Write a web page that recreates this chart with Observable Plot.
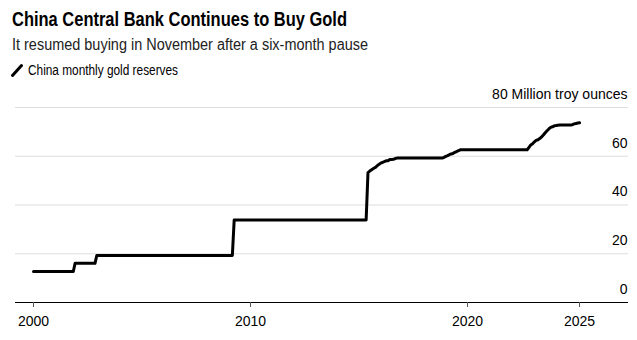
<!DOCTYPE html>
<html>
<head>
<meta charset="utf-8">
<script src="https://cdn.jsdelivr.net/npm/d3@7"></script>
<script src="https://cdn.jsdelivr.net/npm/@observablehq/plot@0.6"></script>
<style>
  html, body { margin: 0; padding: 0; background: #fff; }
  body { width: 637px; height: 340px; position: relative; overflow: hidden;
         font-family: "Liberation Sans", Arial, Helvetica, sans-serif; }
  .hd { position: absolute; left: 12px; white-space: nowrap; line-height: 1; }
  .hd span { display: inline-block; transform-origin: 0 0; }
  #title { top: 9px; font-size: 20px; font-weight: bold; color: #000; }
  #subtitle { top: 37px; font-size: 16px; color: #222; }
  #legend { top: 63px; left: 28px; font-size: 14px; color: #000; }
  #swatch { position: absolute; left: 10px; top: 63px; }
  #chart { position: absolute; left: 0; top: 80px; }
</style>
</head>
<body>
<div id="title" class="hd"><span data-fit="335">China Central Bank Continues to Buy Gold</span></div>
<div id="subtitle" class="hd"><span data-fit="356">It resumed buying in November after a six-month pause</span></div>
<svg id="swatch" width="14" height="15"><line x1="2.5" y1="12.5" x2="11.5" y2="2.5" stroke="#000" stroke-width="3" stroke-linecap="round"/></svg>
<div id="legend" class="hd"><span data-fit="150">China monthly gold reserves</span></div>
<div id="chart"></div>
<script>
// China monthly gold reserves, million troy ounces (flat periods given by their first and last month)
const months = [
  "2000-01","2001-11","2001-12","2002-11","2002-12","2009-03","2009-04","2015-05",
  "2015-06","2015-07","2015-08","2015-09","2015-10","2015-11","2015-12",
  "2016-01","2016-02","2016-03","2016-04","2016-05","2016-06","2016-07","2016-08","2016-09","2016-10",
  "2018-11","2018-12","2019-01","2019-02","2019-03","2019-04","2019-05","2019-06","2019-07","2019-08","2019-09",
  "2022-10","2022-11","2022-12","2023-01","2023-02","2023-03","2023-04","2023-05","2023-06",
  "2023-07","2023-08","2023-09","2023-10","2023-11","2023-12",
  "2024-01","2024-02","2024-03","2024-04","2024-10","2024-11","2024-12","2025-01","2025-02","2025-03"
];
const reserves = [
  12.70,12.70,16.08,16.08,19.29,19.29,33.89,33.89,
  53.31,53.93,54.45,54.93,55.38,56.05,56.66,
  57.18,57.51,57.78,58.14,58.14,58.62,58.62,58.76,59.07,59.24,
  59.24,59.56,59.94,60.26,60.62,60.94,61.10,61.61,61.94,62.26,62.64,
  62.64,63.67,64.64,65.12,65.92,66.50,66.76,67.27,67.95,
  68.69,69.62,70.46,71.20,71.87,72.08,
  72.47,72.58,72.74,72.80,72.80,72.96,73.29,73.45,73.61,73.70
];
const yTicks = [0, 20, 40, 60, 80];
const yUnit = "Million troy ounces";
const xTickYears = ["2000-01", "2010-01", "2020-01"];

const parse = d3.utcParse("%Y-%m");
const data = months.map((m, i) => ({date: parse(m), value: reserves[i]}));
const xTicks = [...xTickYears.map(parse), data[data.length - 1].date];

const chart = Plot.plot({
  width: 637,
  height: 260,
  marginTop: 27,
  marginBottom: 38,
  marginLeft: 15,
  marginRight: 9,
  style: {fontFamily: '"Liberation Sans", Arial, sans-serif', fontSize: "14px", color: "#000", background: "transparent", overflow: "visible"},
  x: {type: "utc", domain: [new Date("1999-03-04"), new Date("2027-06-03")]},
  y: {domain: [0, 80]},
  marks: [
    Plot.ruleY(yTicks.filter(d => d > 0), {stroke: "#dedede", strokeWidth: 1.2}),
    Plot.ruleY([0], {stroke: "#000", strokeWidth: 1}),
    Plot.line(data, {x: "date", y: "value", stroke: "#000", strokeWidth: 3, strokeLinejoin: "round", strokeLinecap: "round"}),
    Plot.axisY(yTicks, {anchor: "right", tickSize: 0, tickPadding: 0, textAnchor: "end", dx: -1, dy: -13,
      fill: "#000", fontSize: 14, label: null,
      tickFormat: d => d === 80 ? `${d} ${yUnit}` : `${d}`}),
    Plot.axisX(xTicks, {anchor: "bottom", tickSize: 5, tickPadding: 9, stroke: "#555", strokeWidth: 1,
      fill: "#000", fontSize: 14, label: null, tickFormat: d3.utcFormat("%Y")})
  ]
});
document.getElementById("chart").appendChild(chart);

// fit header texts to their measured widths in the reference
function fit() {
  document.querySelectorAll("[data-fit]").forEach(el => {
    el.style.transform = "none";
    const w = el.getBoundingClientRect().width;
    const target = +el.dataset.fit;
    if (w > 0) el.style.transform = `scaleX(${target / w})`;
  });
}
fit();
if (document.fonts && document.fonts.ready) document.fonts.ready.then(fit);
</script>
</body>
</html>
